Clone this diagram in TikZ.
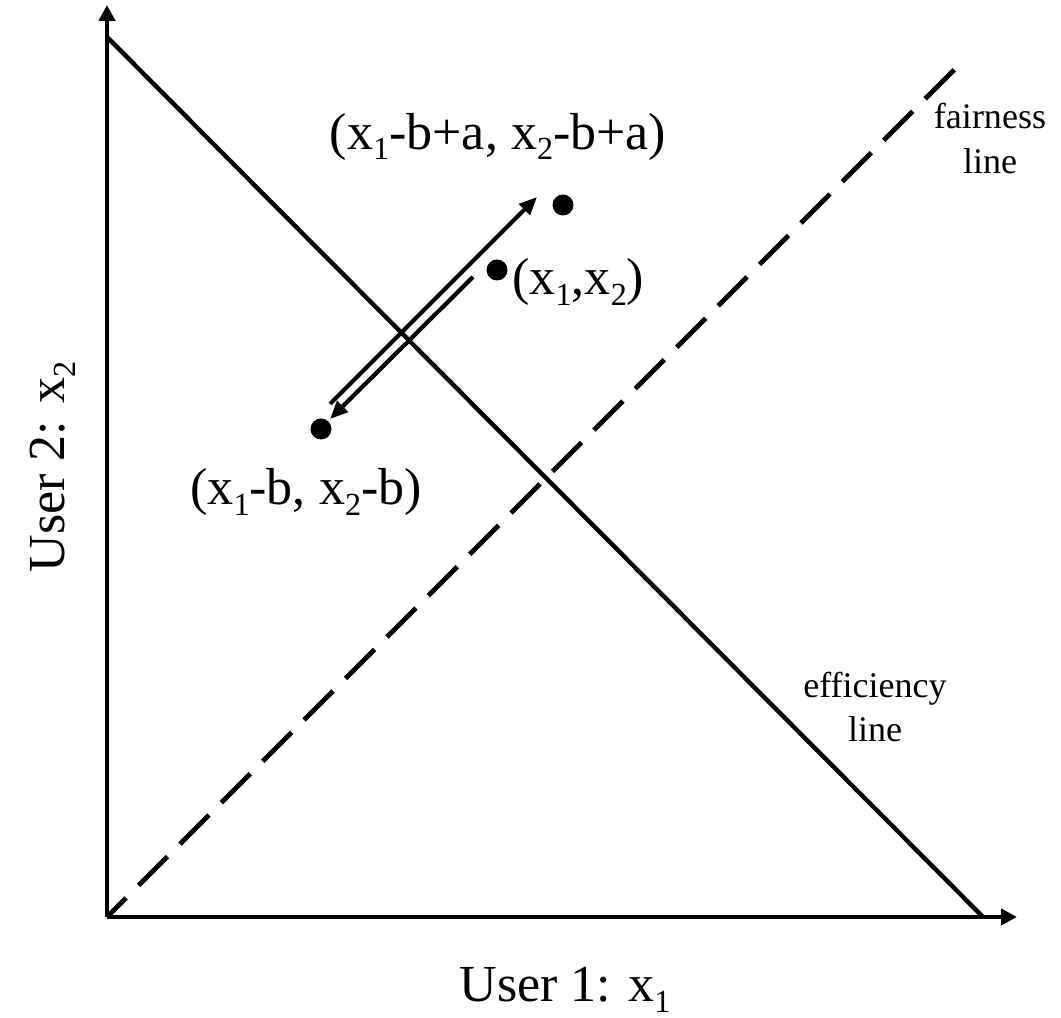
\documentclass[tikz,border=0pt]{standalone}
\usepackage{fontspec}
\setmainfont{Liberation Serif}
\usetikzlibrary{arrows.meta,positioning,calc}
\newcommand\lowsub[1]{\raisebox{-5.7pt}{\fontsize{18.3}{18.3}\selectfont #1}}

\begin{document}
\begin{tikzpicture}[
    axis/.style={line width=2.8pt,-{Triangle[length=0.32cm,width=0.32cm]}},
    move/.style={line width=2.4pt,-{Triangle[length=0.36cm,width=0.3cm]}},
    dot/.style={circle,fill,inner sep=0pt,minimum size=0.42cm},
    big/.style={font=\fontsize{29.6}{35}\selectfont},
    small/.style={font=\fontsize{20.5}{25.6}\selectfont,align=center}]
    \useasboundingbox (-2.14,-2.02) rectangle (19.08,18.34);
    % axes
    \coordinate (O) at (0,0);
    \coordinate (xend) at (18.2,0);
    \coordinate (ytop) at (0,18.24);
    \draw[axis] (O) -- (xend);
    \draw[axis] (O) -- (ytop);
    % efficiency and fairness lines
    \coordinate (E1) at (0,17.6);
    \coordinate (E2) at (17.52,0);
    \coordinate (F) at (16.95,16.95);
    \draw[line width=2.5pt] (E1) -- (E2);
    \draw[line width=2.8pt,dash pattern=on 0.82cm off 0.351cm,dash phase=0.28cm] (O) -- (F);
    % points
    \node[dot] (up) at (9.12,14.24) {};
    \node[dot] (cur) at (7.8,12.94) {};
    \node[dot] (down) at (4.28,9.76) {};
    \coordinate (upS) at (4.46,10.26);
    \coordinate (upE) at (8.6,14.4);
    \coordinate (dnS) at (7.32,12.8);
    \coordinate (dnE) at (4.46,9.96);
    \draw[move] (upS) -- (upE);
    \draw[move] (dnS) -- (dnE);
    % labels
    \node[big,anchor=base] (uplab) at (7.82,15.34) {(x\lowsub{1}-b+a, x\lowsub{2}-b+a)};
    \node[big,anchor=base west,inner sep=0pt] (curlab) at (8.1,12.44) {(x\lowsub{1},x\lowsub{2})};
    \node[big,anchor=base] (downlab) at (3.98,8.24) {(x\lowsub{1}-b, x\lowsub{2}-b)};
    \node[small,anchor=base] (flab) at (17.66,14.86) {fairness\\line};
    \node[small,anchor=base] (elab) at (15.36,3.5) {efficiency\\line};
    \node[big,anchor=base] (xlab) at (9.16,-1.7) {User 1: x\lowsub{1}};
    \node[big,rotate=90,anchor=base] (ylab) at (-0.84,9.0) {User 2: x\lowsub{2}};
\end{tikzpicture}
\end{document}
